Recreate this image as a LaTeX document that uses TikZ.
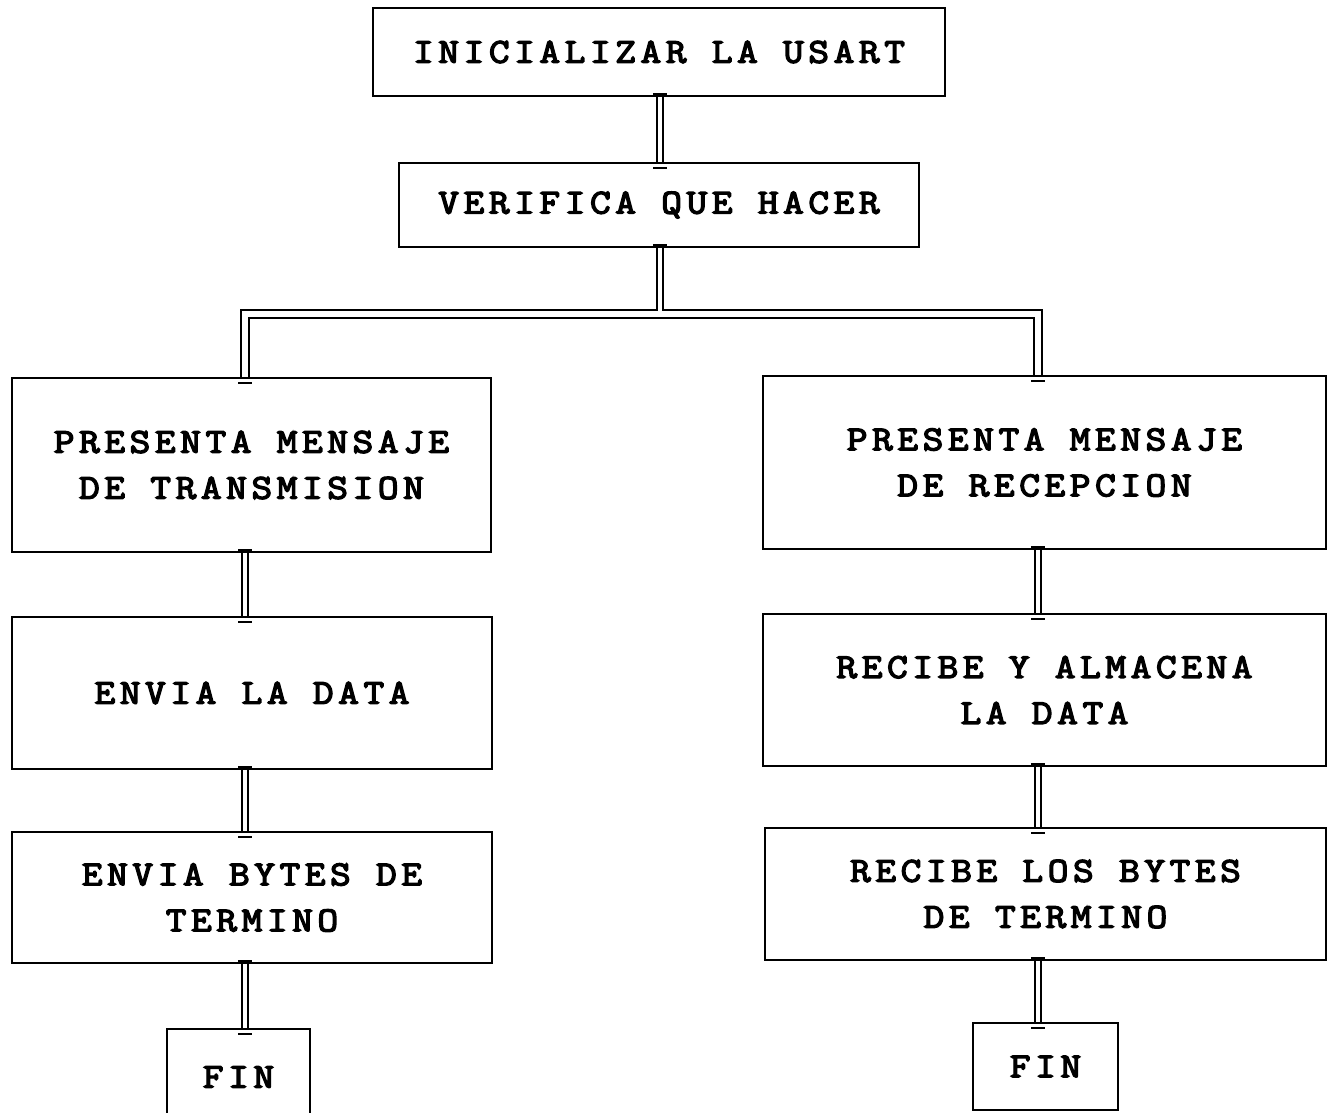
\documentclass[tikz,border=0pt]{standalone}
\usepackage{fontspec}
\setmonofont{Latin Modern Mono}[LetterSpace=13, FakeStretch=1.15, FakeBold=4]
\begin{document}
\begin{tikzpicture}[
            x=1pt, y=-1pt,
            font=\ttfamily\fontsize{35}{46}\selectfont,
            stepbox/.style={draw, line width=1.6pt, align=center, inner sep=0pt},
            link/.style={double, double distance=4pt, line width=1.8pt},
            linkbar/.style={line width=2.4pt}
        ]
        \useasboundingbox (0,0) rectangle (1334,1113);

        %% Columns of the connectors
        \coordinate (colM) at (660,0);
        \coordinate (colL) at (245,0);
        \coordinate (colR) at (1038,0);
        \coordinate (split) at (660,314);
        \coordinate (splittop) at (660,311);

        %% Common steps
        \node[stepbox, minimum width=572pt, minimum height=88pt] (init) at (659,52) {INICIALIZAR LA USART};
        \node[stepbox, minimum width=520pt, minimum height=84pt] (verif) at (659,205) {VERIFICA QUE HACER};

        %% Transmission
        \node[stepbox, minimum width=479pt, minimum height=174pt] (ptx) at (251.5,465) {PRESENTA MENSAJE\\DE TRANSMISION};
        \node[stepbox, minimum width=480pt, minimum height=152pt] (env) at (252,693) {ENVIA LA DATA};
        \node[stepbox, minimum width=480pt, minimum height=131pt] (envb) at (252,897.5) {ENVIA BYTES DE\\TERMINO};
        \node[stepbox, minimum width=143pt, minimum height=96pt] (finL) at (238.5,1077) {FIN};

        %% Reception
        \node[stepbox, minimum width=563pt, minimum height=173pt] (prx) at (1044.5,462.5) {PRESENTA MENSAJE\\DE RECEPCION};
        \node[stepbox, minimum width=563pt, minimum height=152pt] (rec) at (1044.5,690) {RECIBE Y ALMACENA\\LA DATA};
        \node[stepbox, minimum width=561pt, minimum height=132pt] (recb) at (1045.5,894) {RECIBE LOS BYTES\\DE TERMINO};
        \node[stepbox, minimum width=145pt, minimum height=87pt] (finR) at (1045.5,1066.5) {FIN};

        %% Connectors
        \foreach \a/\b/\c in {init/verif/colM, ptx/env/colL, env/envb/colL, envb/finL/colL,
                              prx/rec/colR, rec/recb/colR, recb/finR/colR} {
            \draw[link] (\a.south -| \c) -- (\b.north -| \c);
            \path (\a.south -| \c) coordinate (up) (\b.north -| \c) coordinate (down);
            \draw[linkbar] (up) ++(-7,-3) -- ++(14,0);
            \draw[linkbar] (down) ++(-7,6) -- ++(14,0);
        }

        %% Branch
        \draw[link, double distance=6pt] (ptx.north -| colL) |- (split) -| (prx.north -| colR);
        \draw[link] (verif.south -| colM) -- (splittop);
        \path (verif.south -| colM) coordinate (up);
        \draw[linkbar] (up) ++(-7,-3) -- ++(14,0);
        \foreach \b/\c in {ptx/colL, prx/colR} {
            \path (\b.north -| \c) coordinate (down);
            \draw[linkbar] (down) ++(-7,6) -- ++(14,0);
        }

    \end{tikzpicture}
\end{document}
